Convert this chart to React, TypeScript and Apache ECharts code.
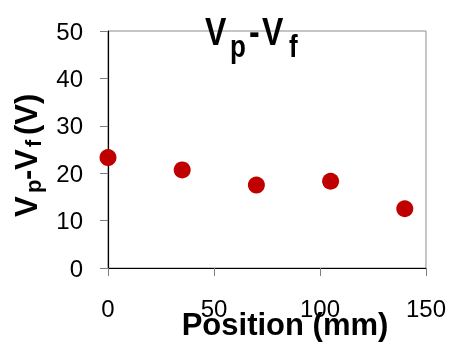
import React, { useEffect, useRef } from "react";
import * as echarts from "echarts";

const positions = [0, 35, 70, 105, 140];
const vpvf = [23.3, 20.7, 17.5, 18.3, 12.5];
const xTicks = { min: 0, max: 150, interval: 50 };
const yTicks = { min: 0, max: 50, interval: 10 };

const FONT = "'Liberation Sans', Arial, sans-serif";

export default function App() {
  const ref = useRef<HTMLDivElement>(null);
  useEffect(() => {
    if (!ref.current) return;
    const chart = echarts.init(ref.current, null, { renderer: "svg" });
    const main = 32;
    const sub = 26;
    const ymain = 31;
    const ysub = 22;
    const mid = (baseline: number, fs: number) => baseline - 0.3465 * fs;
    const t = (text: string, x: number, y: number, fs: number) => ({
      type: "text",
      x,
      y,
      style: {
        text,
        fontSize: fs,
        fontWeight: "bold",
        fontFamily: FONT,
        fill: "#000",
        textAlign: "left",
        textVerticalAlign: "middle",
        verticalAlign: "middle",
      },
    });
    const T0 = 17; // title group top
    chart.setOption({
      animation: false,
      grid: {
        left: 108,
        right: 22,
        top: 31,
        bottom: 75,
        show: true,
        borderColor: "#8c8c8c",
        borderWidth: 1,
      },
      xAxis: {
        type: "value",
        min: xTicks.min,
        max: xTicks.max,
        interval: xTicks.interval,
        axisLine: { show: true, lineStyle: { color: "#000", width: 1.2 } },
        axisTick: { show: true, length: 8, lineStyle: { color: "#7f7f7f" } },
        splitLine: { show: false },
        axisLabel: { fontSize: 24, fontFamily: FONT, color: "#000", margin: 28 },
      },
      yAxis: {
        type: "value",
        min: yTicks.min,
        max: yTicks.max,
        interval: yTicks.interval,
        axisLine: { show: true, lineStyle: { color: "#000", width: 1.2 } },
        axisTick: { show: true, length: 8, lineStyle: { color: "#7f7f7f" } },
        splitLine: { show: false },
        axisLabel: { fontSize: 24, fontFamily: FONT, color: "#000", margin: 25 },
      },
      series: [
        {
          type: "scatter",
          data: positions.map((p, i) => [p, vpvf[i]]),
          symbol: "circle",
          symbolSize: 17,
          itemStyle: { color: "#C00000", opacity: 1 },
        },
      ],
      graphic: [
        // title (slightly stretched vertically, like the reference)
        {
          type: "group",
          x: 0,
          y: T0,
          scaleY: 1.2,
          children: [
            t("V", 205, mid(40.5, main) - T0, main),
            t("p", 230, mid(50, sub) - T0, sub),
            t("-", 249, mid(40.5, main) - T0, main),
            t("V", 262, mid(40.5, main) - T0, main),
            t("f", 289, mid(50, sub) - T0, sub),
          ],
        },
        // y axis name (rotated)
        {
          type: "group",
          x: 0,
          y: 217,
          rotation: Math.PI / 2,
          children: [
            t("V", 0, mid(37, ymain), ymain),
            t("p", 24, mid(41, ysub), ysub),
            t("-", 37, mid(37, ymain), ymain),
            t("V", 47, mid(37, ymain), ymain),
            t("f", 70, mid(41, ysub), ysub),
            t("(V)", 82, mid(37, ymain), ymain),
          ],
        },
        // x axis name
        {
          type: "text",
          x: 285,
          y: mid(335, 31),
          style: {
            text: "Position (mm)",
            fontSize: 31,
            fontWeight: "bold",
            fontFamily: FONT,
            fill: "#000",
            textAlign: "center",
            textVerticalAlign: "middle",
            verticalAlign: "middle",
          },
        },
      ],
    });
    return () => chart.dispose();
  }, []);
  return (
    <div
      ref={ref}
      style={{ position: "fixed", left: 0, top: 0, width: 449, height: 343 }}
    />
  );
}
